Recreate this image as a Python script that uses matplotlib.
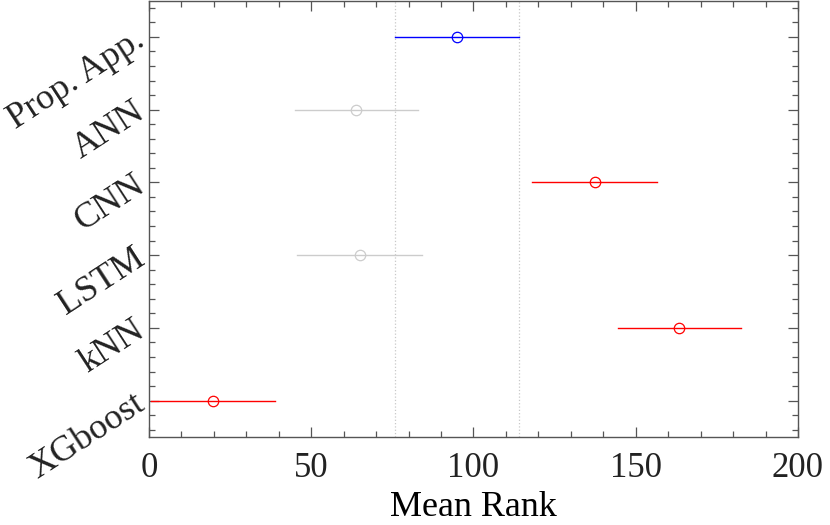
import matplotlib
matplotlib.use("Agg")
import matplotlib.pyplot as plt
from matplotlib.ticker import MultipleLocator

plt.rcParams['font.family'] = ['Liberation Serif', 'DejaVu Serif']

groups = ["Prop. App.", "ANN", "CNN", "LSTM", "kNN", "XGboost"]
mean_rank = [94.9, 63.8, 137.4, 65.0, 163.3, 19.7]
lower = [75.7, 45.0, 118.1, 45.7, 144.4, 0.5]
upper = [114.1, 82.8, 156.6, 84.2, 182.5, 38.8]
colors = ["#0000ff", "#cccccc", "#ff0000", "#cccccc", "#ff0000", "#ff0000"]
xticks = [0, 50, 100, 150, 200]

fig = plt.figure(figsize=(8.3, 5.25), dpi=100)
ax = fig.add_axes([0.1795, 0.1676, 0.7819, 0.8314])

n = len(groups)
ypos = list(range(n, 0, -1))

# reference lines at the selected group's interval
ax.axvline(lower[0], color="#c8c8c8", linestyle=":", linewidth=0.9, zorder=1)
ax.axvline(upper[0], color="#c8c8c8", linestyle=":", linewidth=0.9, zorder=1)

for y, m, lo, hi, c in zip(ypos, mean_rank, lower, upper, colors):
    ax.plot([lo, hi], [y, y], color=c, linewidth=1.0, zorder=2)
    ax.plot([m], [y], marker="o", markersize=7.5, markerfacecolor="none",
            markeredgecolor=c, markeredgewidth=0.9, linestyle="none", zorder=3)

ax.set_xlim(0, 200)
ax.set_ylim(0.5, n + 0.5)
ax.set_xticks(xticks)
ax.set_xticklabels([str(v) for v in xticks], fontsize=25)
ax.xaxis.set_minor_locator(MultipleLocator(10))
ax.set_yticks(ypos)
ax.set_yticklabels(groups, fontsize=26, rotation=33, ha="right", va="center",
                   rotation_mode="anchor")
ax.yaxis.set_minor_locator(MultipleLocator(0.2))
ax.set_xlabel("Mean Rank", fontsize=26, labelpad=4)

ax.tick_params(which="both", direction="in", top=True, right=True,
               color="#555555", width=0.9)
ax.tick_params(which="major", length=7)
ax.tick_params(which="minor", length=4)
ax.tick_params(axis="x", pad=11, colors="#555555", labelcolor="#222222")
ax.tick_params(axis="y", pad=5, colors="#555555", labelcolor="#222222")
for s in ax.spines.values():
    s.set_color("#555555")
    s.set_linewidth(1.0)

fig.savefig("out.png", dpi=100)
